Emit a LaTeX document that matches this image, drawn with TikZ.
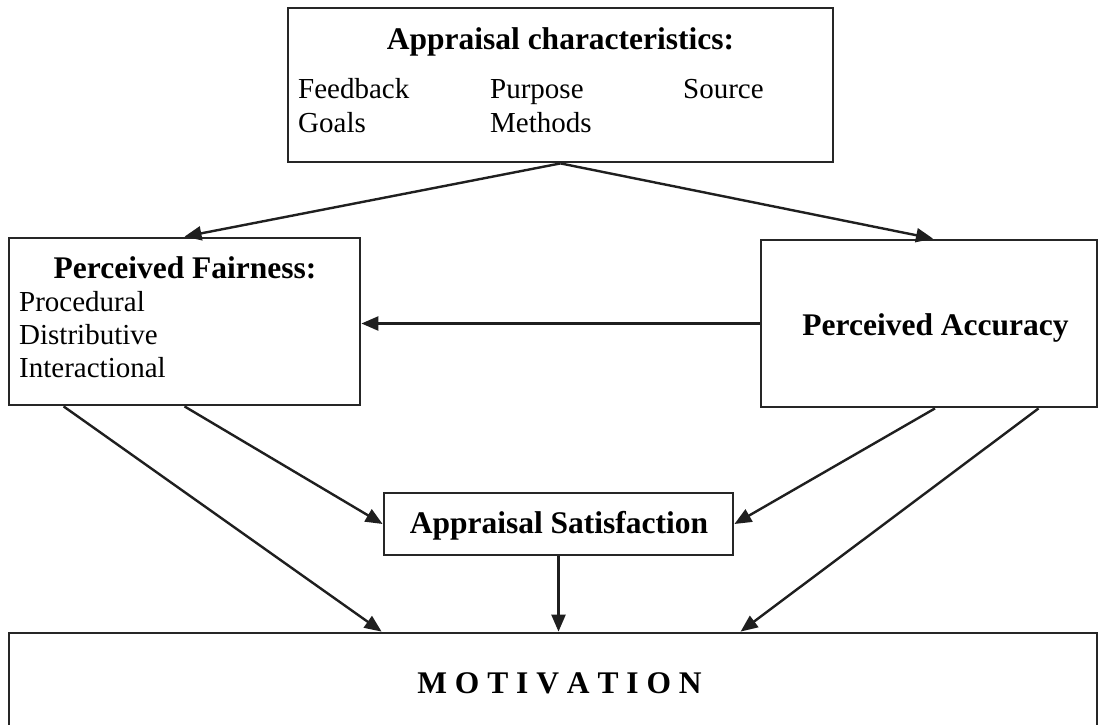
\documentclass[tikz,border=0pt]{standalone}
\usepackage{fontspec}
\setmainfont{Liberation Serif}
\usetikzlibrary{arrows.meta}

\tikzset{
  box/.style={draw=black!85, line width=2.8pt, fill=white, inner sep=0pt, anchor=center},
  heading/.style={font=\fontsize{31.5}{34}\selectfont\bfseries, inner sep=0pt},
  item/.style={font=\fontsize{29}{32}\selectfont, inner sep=0pt, anchor=base west},
  link/.style={draw=black!88, line width=2.4pt,
    -{Triangle[length=17pt,width=14pt]}}
}

\begin{document}
\begin{tikzpicture}[x=1pt, y=-1pt]
  \useasboundingbox (0,0) rectangle (1100,725);
  \clip (0,0) rectangle (1100,725);
  \fill[white] (0,0) rectangle (1100,725);

  % boxes
  \node[box, minimum width=545pt, minimum height=154pt] (char) at (560.5,85) {};
  \node[box, minimum width=351pt, minimum height=167pt] (fair) at (184.5,321.5) {};
  \node[box, minimum width=336pt, minimum height=167pt] (acc)  at (929,323.5) {};
  \node[box, minimum width=349pt, minimum height=62pt]  (sat)  at (558.5,524) {};
  \node[box, minimum width=1088pt, minimum height=102pt] (mot) at (553,684) {};

  % appraisal characteristics
  \node[heading, anchor=base] (charT) at (560.5,49) {Appraisal characteristics:};
  \node[item] (feed) at (298,98)  {Feedback};
  \node[item] (purp) at (490,98)  {Purpose};
  \node[item] (src)  at (683,98)  {Source};
  \node[item] (goal) at (298,132) {Goals};
  \node[item] (meth) at (490,132) {Methods};

  % perceived fairness
  \node[heading, anchor=base] (fairT) at (185,278) {Perceived Fairness:};
  \node[item] (proc) at (19,311) {Procedural};
  \node[item] (dist) at (19,344) {Distributive};
  \node[item] (inter) at (19,377) {Interactional};

  % perceived accuracy, satisfaction, motivation
  \node[heading, anchor=base] (accT) at (935.5,335) {Perceived Accuracy};
  \node[heading, anchor=base] (satT) at (559,533) {Appraisal Satisfaction};
  \node[heading, anchor=base] (motT) at (559.5,693) {M O T I V A T I O N};

  % connectors
  \draw[link] (char.south) -- (fair.north);
  \draw[link] (char.south) -- ([xshift=4pt]acc.north);
  \draw[link] (acc.west) -- (acc.west -| fair.east);
  \draw[link] (fair.south) -- (sat.west);
  \draw[link] ([xshift=56pt]fair.south west) -- ([xshift=374pt]mot.north west);
  \draw[link] ([xshift=6pt]acc.south) -- (sat.east);
  \draw[link] ([xshift=279pt]acc.south west) -- ([xshift=733pt]mot.north west);
  \draw[link] (sat.south) -- (sat.south |- mot.north);
\end{tikzpicture}
\end{document}
